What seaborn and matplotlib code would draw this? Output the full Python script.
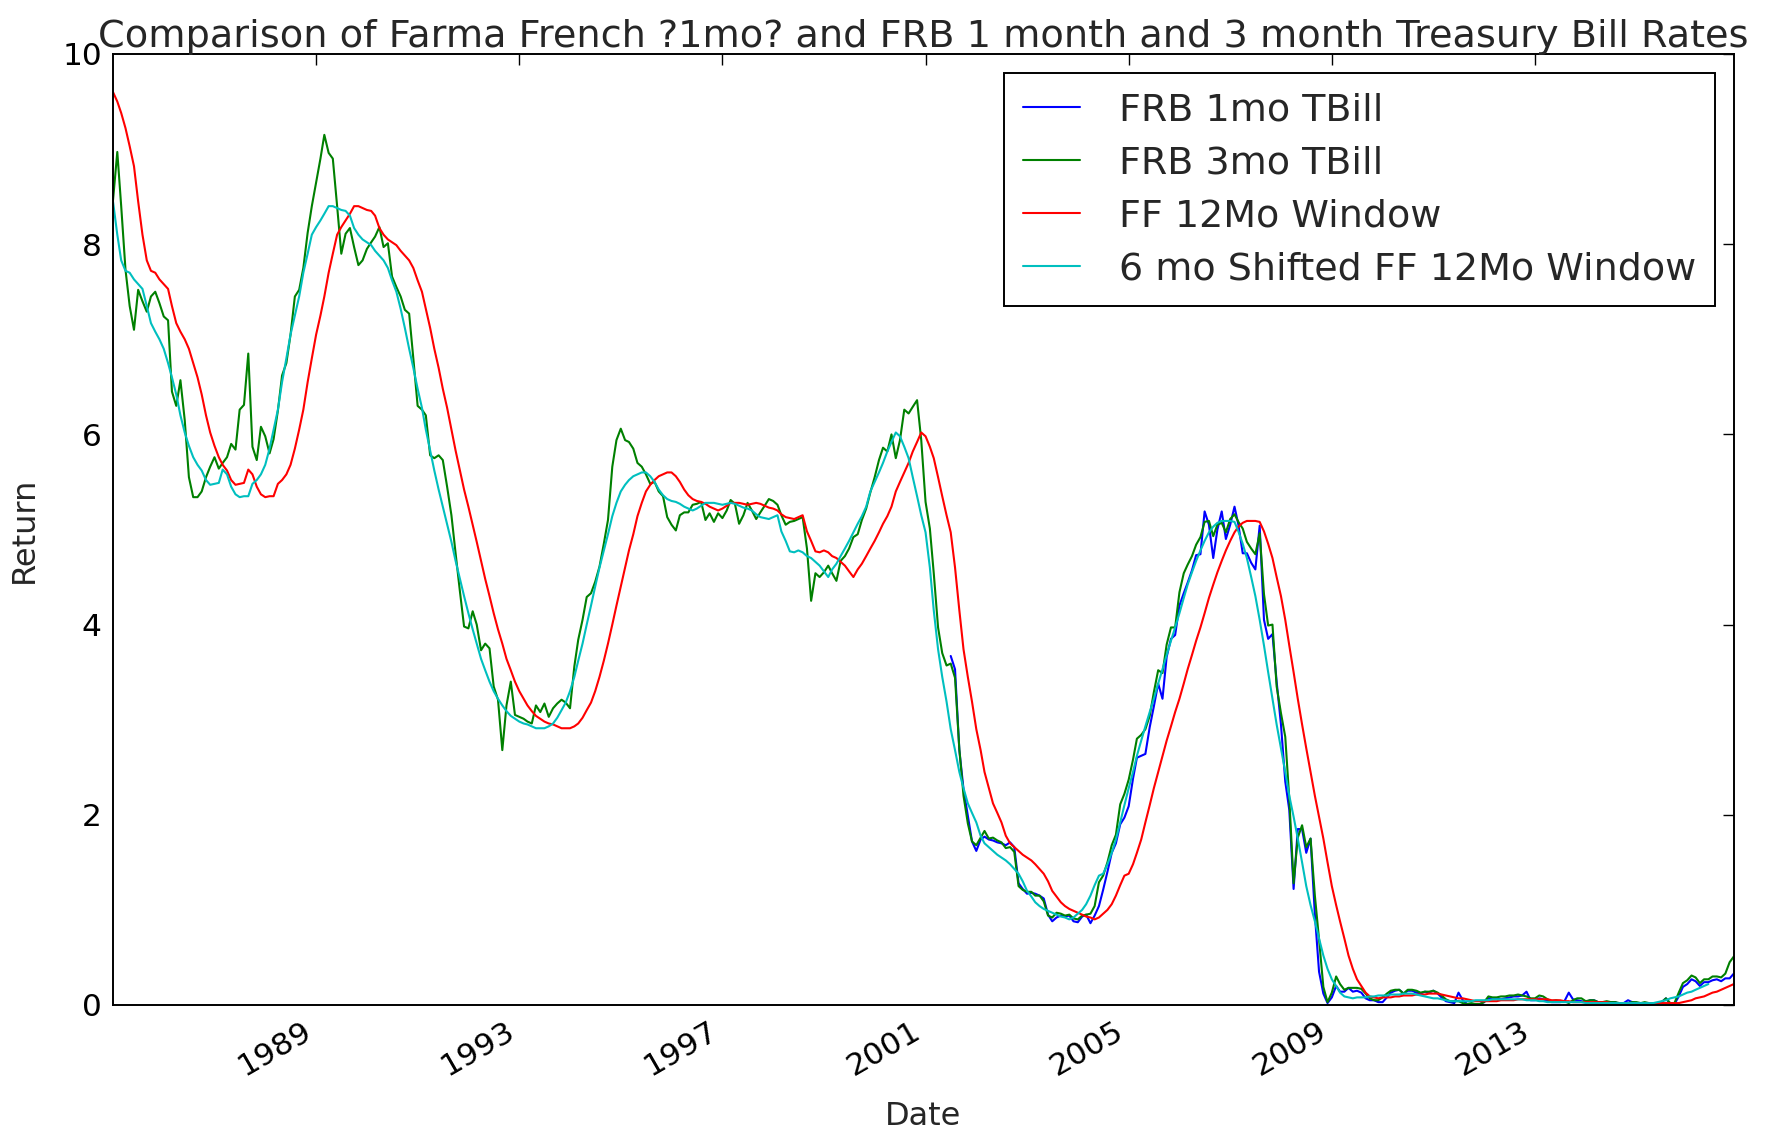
import numpy as np
import pandas as pd
import matplotlib
matplotlib.use("Agg")
import matplotlib.pyplot as plt
import matplotlib.dates as mdates
import seaborn as sns

# ---------------- data (monthly, Jan 1985 - Dec 2016) ----------------
start_date = "1985-01-01"
end_date = "2016-12-01"

frb_3mo = [
    8.46, 8.97, 8.40, 7.73, 7.35, 7.10, 7.52, 7.40, 7.29, 7.45, 7.50, 7.38,  # 1985
    7.24, 7.20, 6.45, 6.30, 6.57, 6.15, 5.55, 5.34, 5.34, 5.40, 5.55, 5.66,  # 1986
    5.76, 5.64, 5.70, 5.76, 5.90, 5.84, 6.26, 6.31, 6.85, 5.87, 5.73, 6.08,  # 1987
    5.98, 5.80, 5.95, 6.25, 6.62, 6.75, 7.05, 7.45, 7.52, 7.75, 8.12, 8.40,  # 1988
    8.65, 8.90, 9.15, 8.96, 8.90, 8.40, 7.90, 8.11, 8.17, 7.97, 7.78, 7.83,  # 1989
    7.95, 8.02, 8.08, 8.18, 7.97, 8.01, 7.66, 7.55, 7.45, 7.31, 7.27, 6.80,  # 1990
    6.30, 6.26, 6.20, 5.78, 5.75, 5.78, 5.73, 5.45, 5.15, 4.75, 4.35, 3.98,  # 1991
    3.96, 4.14, 4.00, 3.73, 3.80, 3.75, 3.35, 3.21, 2.68, 3.15, 3.40, 3.05,  # 1992
    3.03, 3.01, 2.98, 2.96, 3.15, 3.08, 3.17, 3.03, 3.12, 3.17, 3.21, 3.18,  # 1993
    3.12, 3.56, 3.84, 4.05, 4.29, 4.33, 4.45, 4.61, 4.85, 5.10, 5.66, 5.94,  # 1994
    6.06, 5.94, 5.92, 5.85, 5.70, 5.66, 5.58, 5.48, 5.50, 5.40, 5.35, 5.13,  # 1995
    5.05, 4.99, 5.15, 5.18, 5.18, 5.26, 5.27, 5.29, 5.10, 5.17, 5.08, 5.17,  # 1996
    5.12, 5.20, 5.31, 5.27, 5.06, 5.15, 5.28, 5.20, 5.11, 5.18, 5.25, 5.32,  # 1997
    5.30, 5.26, 5.15, 5.05, 5.08, 5.09, 5.11, 5.13, 4.80, 4.25, 4.54, 4.50,  # 1998
    4.55, 4.62, 4.54, 4.46, 4.67, 4.72, 4.80, 4.92, 4.95, 5.10, 5.22, 5.39,  # 1999
    5.55, 5.73, 5.86, 5.82, 6.00, 5.75, 5.94, 6.26, 6.22, 6.29, 6.36, 5.94,  # 2000
    5.29, 5.01, 4.54, 3.97, 3.70, 3.57, 3.59, 3.44, 2.69, 2.20, 1.91, 1.72,  # 2001
    1.68, 1.76, 1.83, 1.75, 1.76, 1.73, 1.71, 1.65, 1.66, 1.61, 1.25, 1.21,  # 2002
    1.19, 1.19, 1.15, 1.15, 1.09, 0.94, 0.92, 0.97, 0.96, 0.94, 0.95, 0.91,  # 2003
    0.90, 0.94, 0.95, 0.96, 1.04, 1.29, 1.36, 1.50, 1.68, 1.79, 2.11, 2.22,  # 2004
    2.37, 2.58, 2.80, 2.84, 2.90, 3.04, 3.29, 3.52, 3.49, 3.79, 3.97, 3.97,  # 2005
    4.34, 4.54, 4.63, 4.72, 4.84, 4.92, 5.08, 5.09, 4.93, 5.05, 5.07, 4.97,  # 2006
    5.11, 5.16, 5.08, 5.01, 4.87, 4.80, 4.74, 4.96, 4.32, 3.99, 4.00, 3.35,  # 2007
    3.07, 2.82, 2.17, 1.28, 1.76, 1.89, 1.66, 1.75, 1.15, 0.69, 0.19, 0.03,  # 2008
    0.13, 0.30, 0.22, 0.16, 0.18, 0.18, 0.18, 0.17, 0.12, 0.07, 0.05, 0.05,  # 2009
    0.08, 0.12, 0.15, 0.16, 0.16, 0.12, 0.16, 0.16, 0.15, 0.13, 0.14, 0.14,  # 2010
    0.15, 0.13, 0.10, 0.06, 0.04, 0.04, 0.04, 0.02, 0.01, 0.02, 0.01, 0.01,  # 2011
    0.03, 0.09, 0.08, 0.08, 0.09, 0.09, 0.10, 0.10, 0.11, 0.10, 0.09, 0.07,  # 2012
    0.07, 0.10, 0.09, 0.06, 0.04, 0.05, 0.04, 0.04, 0.02, 0.05, 0.07, 0.07,  # 2013
    0.04, 0.05, 0.05, 0.03, 0.03, 0.04, 0.03, 0.03, 0.02, 0.02, 0.02, 0.03,  # 2014
    0.03, 0.02, 0.03, 0.02, 0.02, 0.02, 0.03, 0.07, 0.02, 0.02, 0.13, 0.23,  # 2015
    0.26, 0.31, 0.29, 0.23, 0.27, 0.27, 0.30, 0.30, 0.29, 0.33, 0.45, 0.51,  # 2016
]

frb_1mo_start = "2001-07-01"
frb_1mo = [
    3.67, 3.53, 2.68, 2.27, 1.99, 1.72,                                      # 2001 H2
    1.62, 1.74, 1.77, 1.74, 1.73, 1.71, 1.70, 1.68, 1.71, 1.66, 1.28, 1.22,  # 2002
    1.17, 1.18, 1.17, 1.15, 1.12, 0.95, 0.88, 0.92, 0.94, 0.93, 0.94, 0.88,  # 2003
    0.87, 0.93, 0.95, 0.86, 0.94, 1.04, 1.21, 1.40, 1.60, 1.70, 1.90, 1.97,  # 2004
    2.09, 2.38, 2.60, 2.62, 2.64, 2.92, 3.14, 3.38, 3.22, 3.66, 3.85, 3.89,  # 2005
    4.20, 4.33, 4.44, 4.57, 4.73, 4.74, 5.19, 5.05, 4.70, 5.00, 5.19, 4.90,  # 2006
    5.05, 5.24, 5.05, 4.75, 4.75, 4.65, 4.58, 5.04, 4.05, 3.85, 3.90, 3.40,  # 2007
    2.95, 2.35, 2.05, 1.22, 1.85, 1.85, 1.60, 1.75, 0.95, 0.35, 0.12, 0.02,  # 2008
    0.08, 0.20, 0.14, 0.14, 0.18, 0.14, 0.15, 0.13, 0.07, 0.05, 0.05, 0.03,  # 2009
    0.03, 0.08, 0.13, 0.15, 0.16, 0.12, 0.15, 0.15, 0.13, 0.12, 0.14, 0.13,  # 2010
    0.15, 0.12, 0.08, 0.04, 0.03, 0.02, 0.13, 0.05, 0.01, 0.01, 0.01, 0.01,  # 2011
    0.03, 0.07, 0.07, 0.07, 0.06, 0.07, 0.08, 0.09, 0.09, 0.10, 0.14, 0.05,  # 2012
    0.05, 0.07, 0.06, 0.04, 0.03, 0.03, 0.03, 0.04, 0.13, 0.06, 0.05, 0.04,  # 2013
    0.03, 0.05, 0.05, 0.03, 0.03, 0.03, 0.03, 0.03, 0.01, 0.02, 0.05, 0.03,  # 2014
    0.02, 0.02, 0.02, 0.02, 0.01, 0.01, 0.03, 0.07, 0.01, 0.01, 0.09, 0.19,  # 2015
    0.22, 0.27, 0.25, 0.20, 0.24, 0.24, 0.26, 0.27, 0.25, 0.28, 0.28, 0.33,  # 2016
]

ff_12mo = [
    9.60, 9.50, 9.38, 9.22, 9.03, 8.82, 8.45, 8.10, 7.83, 7.72, 7.70, 7.63,  # 1985
    7.58, 7.53, 7.35, 7.17, 7.08, 7.00, 6.90, 6.75, 6.60, 6.42, 6.20, 6.02,  # 1986
    5.88, 5.76, 5.68, 5.62, 5.52, 5.47, 5.48, 5.49, 5.63, 5.58, 5.45, 5.37,  # 1987
    5.34, 5.35, 5.35, 5.48, 5.52, 5.58, 5.68, 5.85, 6.05, 6.26, 6.55, 6.80,  # 1988
    7.05, 7.25, 7.45, 7.70, 7.90, 8.10, 8.18, 8.25, 8.32, 8.40, 8.40, 8.38,  # 1989
    8.36, 8.35, 8.30, 8.17, 8.10, 8.05, 8.02, 7.99, 7.93, 7.88, 7.83, 7.75,  # 1990
    7.62, 7.50, 7.32, 7.12, 6.90, 6.70, 6.48, 6.28, 6.05, 5.83, 5.62, 5.42,  # 1991
    5.24, 5.05, 4.87, 4.67, 4.48, 4.30, 4.12, 3.95, 3.80, 3.64, 3.52, 3.40,  # 1992
    3.30, 3.22, 3.15, 3.09, 3.04, 3.01, 2.98, 2.96, 2.95, 2.93, 2.91, 2.91,  # 1993
    2.91, 2.93, 2.96, 3.02, 3.10, 3.18, 3.30, 3.45, 3.62, 3.80, 4.00, 4.20,  # 1994
    4.40, 4.60, 4.78, 4.95, 5.14, 5.28, 5.40, 5.47, 5.52, 5.56, 5.58, 5.60,  # 1995
    5.60, 5.56, 5.50, 5.42, 5.36, 5.32, 5.30, 5.29, 5.27, 5.24, 5.22, 5.20,  # 1996
    5.22, 5.25, 5.28, 5.28, 5.28, 5.27, 5.26, 5.27, 5.28, 5.27, 5.25, 5.23,  # 1997
    5.22, 5.20, 5.16, 5.13, 5.12, 5.11, 5.13, 5.15, 4.98, 4.88, 4.77, 4.76,  # 1998
    4.78, 4.76, 4.72, 4.70, 4.66, 4.62, 4.56, 4.50, 4.58, 4.64, 4.72, 4.80,  # 1999
    4.88, 4.97, 5.06, 5.14, 5.24, 5.40, 5.50, 5.60, 5.70, 5.82, 5.92, 6.02,  # 2000
    5.98, 5.87, 5.75, 5.55, 5.35, 5.15, 4.97, 4.60, 4.15, 3.74, 3.45, 3.19,  # 2001
    2.90, 2.68, 2.45, 2.28, 2.12, 2.02, 1.92, 1.78, 1.70, 1.66, 1.62, 1.58,  # 2002
    1.55, 1.52, 1.48, 1.43, 1.38, 1.30, 1.20, 1.14, 1.08, 1.04, 1.01, 0.99,  # 2003
    0.97, 0.95, 0.93, 0.92, 0.90, 0.92, 0.96, 1.00, 1.06, 1.15, 1.26, 1.36,  # 2004
    1.38, 1.48, 1.60, 1.74, 1.92, 2.10, 2.28, 2.45, 2.62, 2.78, 2.93, 3.08,  # 2005
    3.22, 3.38, 3.53, 3.68, 3.83, 3.97, 4.12, 4.28, 4.42, 4.55, 4.67, 4.78,  # 2006
    4.88, 4.97, 5.03, 5.07, 5.09, 5.09, 5.09, 5.08, 4.98, 4.85, 4.70, 4.50,  # 2007
    4.30, 4.05, 3.78, 3.50, 3.22, 2.95, 2.70, 2.45, 2.20, 1.98, 1.75, 1.50,  # 2008
    1.25, 1.05, 0.88, 0.70, 0.52, 0.38, 0.27, 0.20, 0.13, 0.09, 0.08, 0.07,  # 2009
    0.08, 0.08, 0.08, 0.09, 0.09, 0.10, 0.10, 0.10, 0.11, 0.11, 0.11, 0.12,  # 2010
    0.12, 0.12, 0.11, 0.10, 0.09, 0.08, 0.07, 0.07, 0.06, 0.05, 0.04, 0.04,  # 2011
    0.04, 0.04, 0.04, 0.04, 0.05, 0.05, 0.05, 0.05, 0.06, 0.06, 0.06, 0.06,  # 2012
    0.06, 0.06, 0.06, 0.06, 0.05, 0.05, 0.05, 0.04, 0.04, 0.03, 0.03, 0.03,  # 2013
    0.03, 0.03, 0.03, 0.03, 0.03, 0.03, 0.02, 0.02, 0.02, 0.02, 0.02, 0.02,  # 2014
    0.02, 0.02, 0.02, 0.02, 0.02, 0.02, 0.02, 0.02, 0.02, 0.02, 0.02, 0.03,  # 2015
    0.04, 0.05, 0.07, 0.08, 0.09, 0.11, 0.13, 0.14, 0.16, 0.18, 0.20, 0.22,  # 2016
]

shift_months = 6
tick_years = [1989, 1993, 1997, 2001, 2005, 2009, 2013]
y_ticks = [0, 2, 4, 6, 8, 10]

series_labels = ["FRB 1mo TBill", "FRB 3mo TBill", "FF 12Mo Window",
                 "6 mo Shifted FF 12Mo Window"]
series_colors = ["#0000ff", "#008000", "#ff0000", "#00bfbf"]

# ---------------- build table ----------------
dates = pd.date_range(start_date, end_date, freq="MS")
df = pd.DataFrame({"date": dates, "tb3": frb_3mo, "ff": ff_12mo})
df["tb1"] = np.nan
df.loc[df["date"] >= pd.Timestamp(frb_1mo_start), "tb1"] = frb_1mo
df["ff_shift"] = df["ff"].shift(-shift_months)

# ---------------- style ----------------
sns.set_style("white")
plt.rcParams.update({
    "font.family": ["DejaVu Sans"],
    "axes.edgecolor": "black",
    "axes.linewidth": 1.4,
    "xtick.direction": "in",
    "ytick.direction": "in",
    "xtick.top": True,
    "ytick.right": True,
    "xtick.major.size": 8,
    "ytick.major.size": 8,
    "xtick.major.width": 1.0,
    "ytick.major.width": 1.0,
    "xtick.color": "black",
    "ytick.color": "black",
})

fig, ax = plt.subplots(figsize=(17.71, 11.32), dpi=100)
fig.patch.set_facecolor("white")
fig.subplots_adjust(left=0.0638, right=0.979, top=0.9523, bottom=0.1122)

for col, lab, colr in zip(["tb1", "tb3", "ff", "ff_shift"], series_labels, series_colors):
    sns.lineplot(data=df, x="date", y=col, ax=ax, color=colr, label=lab,
                 linewidth=1.5, estimator=None, sort=False)

ax.set_xlim(dates[0], dates[-1])
ax.set_ylim(0, 10)
ax.set_yticks(y_ticks)
ax.set_yticklabels([str(v) for v in y_ticks])
tick_dates = [pd.Timestamp(f"{y}-01-01") for y in tick_years]
ax.set_xticks(mdates.date2num(tick_dates))
ax.set_xticklabels([str(y) for y in tick_years], rotation=30, ha="right")
ax.tick_params(axis="both", labelsize=22.5, pad=8)

ax.set_xlabel("Date", fontsize=23, labelpad=14)
ax.set_ylabel("Return", fontsize=23, labelpad=16)
ax.set_title("Comparison of Farma French ?1mo? and FRB 1 month and 3 month Treasury Bill Rates",
             fontsize=27.5, pad=5)

leg = ax.legend(loc="upper right", fontsize=27.4, frameon=True, fancybox=False,
                shadow=False, handlelength=1.5, handletextpad=1.0,
                borderpad=0.5, labelspacing=0.45, borderaxespad=0.5)
leg.get_frame().set_edgecolor("black")
leg.get_frame().set_linewidth(1.4)
leg.get_frame().set_alpha(1.0)
for sp in ax.spines.values():
    sp.set_visible(True)

fig.savefig("out.png", dpi=100, facecolor="white")
